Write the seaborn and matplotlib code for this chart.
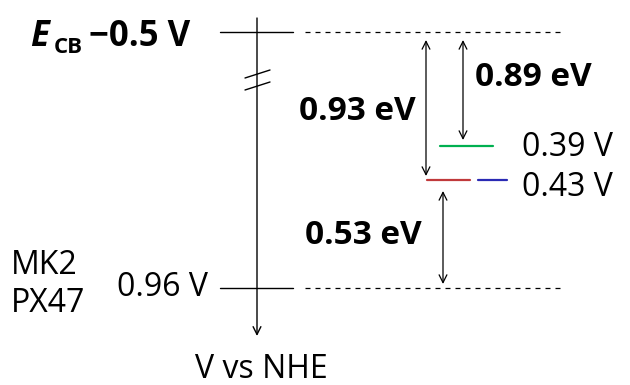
import matplotlib
matplotlib.use("Agg")
import matplotlib.pyplot as plt
import seaborn as sns
import pandas as pd

# ---- data ----
level_values = [-0.5, 0.39, 0.43, 0.96]          # V vs NHE
level_labels = ["\u22120.5 V", "0.39 V", "0.43 V", "0.96 V"]
gap_values = [0.93, 0.89, 0.53]                    # eV
gap_labels = ["0.93 eV", "0.89 eV", "0.53 eV"]
dye_names = ["MK2", "PX47"]
axis_label = "V vs NHE"
cb_symbol, cb_sub = "E", "CB"

# ---- layout (schematic, not to scale) ----
ypos = {-0.5: 32, 0.39: 146, 0.43: 180, 0.96: 288}
axis_x = 257
tick_x = (220, 293)
dash_x = (305, 563)
green_x = (440, 493)
red_x = (427, 470)
blue_x = (478, 507)

sns.set_theme(style="white")
plt.rcParams["font.family"] = ["Open Sans", "DejaVu Sans"]
plt.rcParams["text.color"] = "black"

fig = plt.figure(figsize=(6.3, 3.85), dpi=100)
ax = fig.add_axes([0, 0, 1, 1])
ax.set_xlim(0, 630)
ax.set_ylim(385, 0)
ax.axis("off")

y_cb = ypos[level_values[0]]
y_g = ypos[level_values[1]]
y_r = ypos[level_values[2]]
y_ho = ypos[level_values[3]]

# level segments via seaborn
ticks = pd.DataFrame({"x": [tick_x[0], tick_x[1], tick_x[0], tick_x[1]],
                      "y": [y_cb, y_cb, y_ho, y_ho],
                      "seg": ["a", "a", "b", "b"]})
sns.lineplot(data=ticks, x="x", y="y", units="seg", estimator=None, color="black",
             lw=1.0, ax=ax, legend=False)

dash = pd.DataFrame({"x": [dash_x[0], dash_x[1], dash_x[0], dash_x[1]],
                     "y": [y_cb, y_cb, y_ho, y_ho],
                     "seg": ["a", "a", "b", "b"]})
sns.lineplot(data=dash, x="x", y="y", units="seg", estimator=None, color="black",
             lw=0.9, ls=(0, (4, 4)), ax=ax, legend=False)

lv = pd.DataFrame({"x": [green_x[0], green_x[1], red_x[0], red_x[1], blue_x[0], blue_x[1]],
                   "y": [y_g, y_g, y_r, y_r, y_r, y_r],
                   "seg": ["g", "g", "r", "r", "b", "b"]})
sns.lineplot(data=lv, x="x", y="y", hue="seg", units="seg", estimator=None,
             palette={"g": "#00b050", "r": "#c0393b", "b": "#2a2ab4"},
             lw=1.6, ax=ax, legend=False)
ax.set_xlabel("")
ax.set_ylabel("")

# vertical axis with arrow
ax.annotate("", xy=(axis_x, 336), xytext=(axis_x, 18),
            arrowprops=dict(arrowstyle="->", lw=1.0, color="black",
                            mutation_scale=14, shrinkA=0, shrinkB=0))
# axis break marks
for yb in (74, 86):
    ax.plot([245, 270], [yb + 4, yb - 4], color="black", lw=1.0)

# energy gap arrows
arrow_kw = dict(arrowstyle="<->", lw=0.9, color="black", mutation_scale=14,
                shrinkA=0, shrinkB=0)
ax.annotate("", xy=(426, 40), xytext=(426, 176), arrowprops=arrow_kw)
ax.annotate("", xy=(463, 40), xytext=(463, 140), arrowprops=arrow_kw)
ax.annotate("", xy=(443, 191), xytext=(443, 284), arrowprops=arrow_kw)

# texts
fs = 23
fb = 24
ax.text(299, 111, gap_labels[0], fontsize=fb, fontweight="bold", va="center", ha="left")
ax.text(475, 77, gap_labels[1], fontsize=fb, fontweight="bold", va="center", ha="left")
ax.text(305, 235, gap_labels[2], fontsize=fb, fontweight="bold", va="center", ha="left")
ax.text(522, 147, level_labels[1], fontsize=fs, va="center", ha="left")
ax.text(522, 188, level_labels[2], fontsize=fs, va="center", ha="left")
ax.text(208, 288, level_labels[3], fontsize=fs, va="center", ha="right")
ax.text(11, 266, dye_names[0], fontsize=fs, va="center", ha="left")
ax.text(11, 304, dye_names[1], fontsize=fs, va="center", ha="left")
ax.text(261, 369, axis_label, fontsize=fs, va="center", ha="center")
# E_CB label
ax.text(30, 46, cb_symbol, fontsize=25, fontweight="bold", fontstyle="italic",
        va="baseline", ha="left")
ax.text(54, 53, cb_sub, fontsize=16, fontweight="bold", va="baseline", ha="left")
ax.text(89, 46, level_labels[0], fontsize=25, fontweight="bold",
        va="baseline", ha="left")

fig.savefig("out.png", dpi=100)
